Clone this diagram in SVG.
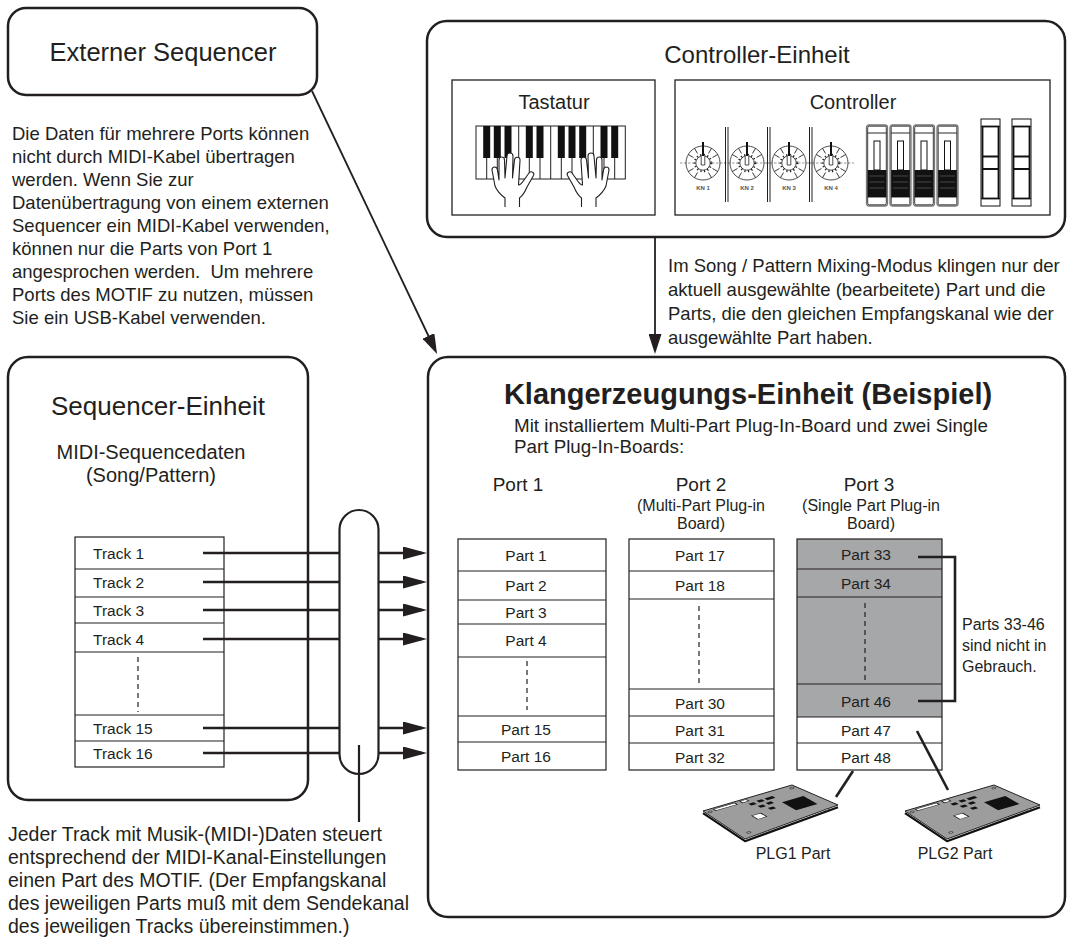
<svg xmlns="http://www.w3.org/2000/svg" width="1070" height="941" viewBox="0 0 1070 941">
<style>
  text { font-family: "Liberation Sans", Arial, Helvetica, sans-serif; fill: #231f20; }
  .mid { text-anchor: middle; }
  .box { fill: #fff; stroke: #231f20; stroke-width: 2.5; }
  .inner { fill: #fff; stroke: #231f20; stroke-width: 1.3; }
  .cell { fill: none; stroke: #231f20; stroke-width: 1.2; }
  .dash { stroke: #231f20; stroke-width: 1.2; stroke-dasharray: 5 4; }
  .wire { fill: none; stroke: #231f20; stroke-width: 2.6; }
  .thin { fill: none; stroke: #231f20; stroke-width: 1.8; }
  .body { font-size: 18.5px; }
  .lbl { font-size: 15.5px; }
  .kn { font-size: 6px; font-weight: bold; fill: #555; }
</style>
<defs>
  <marker id="head" viewBox="0 0 20 13" refX="15" refY="6.5" markerWidth="20" markerHeight="13" markerUnits="userSpaceOnUse" orient="auto">
    <path d="M0,0 L20,6.5 L0,13 Z" fill="#231f20"/>
  </marker>
  <marker id="headTrack" viewBox="0 0 24 13" refX="19" refY="6.5" markerWidth="24" markerHeight="13" markerUnits="userSpaceOnUse" orient="auto">
    <path d="M0,0 L24,6.5 L0,13 Z" fill="#231f20"/>
  </marker>

  <!-- rotary knob with scale ticks -->
  <g id="knob">
    <line x1="-23" y1="0" x2="23" y2="0" stroke="#8a8a8a" stroke-width="0.9" stroke-dasharray="2.5 1.5"/>
    <circle r="17" fill="none" stroke="#231f20" stroke-width="0.8"/>
    <g stroke="#231f20" stroke-width="0.8">
      <line x1="0" y1="-11" x2="0" y2="-17" transform="rotate(30)"/>
      <line x1="0" y1="-11" x2="0" y2="-17" transform="rotate(60)"/>
      <line x1="0" y1="-11" x2="0" y2="-17" transform="rotate(120)"/>
      <line x1="0" y1="-11" x2="0" y2="-17" transform="rotate(150)"/>
      <line x1="0" y1="-11" x2="0" y2="-17" transform="rotate(210)"/>
      <line x1="0" y1="-11" x2="0" y2="-17" transform="rotate(240)"/>
      <line x1="0" y1="-11" x2="0" y2="-17" transform="rotate(300)"/>
      <line x1="0" y1="-11" x2="0" y2="-17" transform="rotate(330)"/>
    </g>
    <circle r="7.2" fill="#fff" stroke="#231f20" stroke-width="0.8"/>
    <circle r="8.3" fill="none" stroke="#231f20" stroke-width="2" stroke-dasharray="1.2 2.4"/>
    <path d="M-1.8,-8 V2 H1.8 V-8" fill="#fff" stroke="#231f20" stroke-width="0.8"/>
    <line x1="0" y1="-21" x2="0" y2="-7" stroke="#111" stroke-width="2"/>
  </g>

  <!-- channel fader -->
  <g id="slider">
    <rect x="0" y="0" width="21" height="81" rx="2.5" fill="#fff" stroke="#777" stroke-width="1.3"/>
    <rect x="1.2" y="1.2" width="18.6" height="78.6" rx="1.5" fill="none" stroke="#111" stroke-width="0.8"/>
    <line x1="1.2" y1="8" x2="19.8" y2="8" stroke="#111" stroke-width="0.9"/>
    <rect x="7.5" y="16" width="6" height="29" fill="#fff" stroke="#111" stroke-width="1"/>
    <rect x="1.2" y="45" width="18.6" height="27" fill="#111"/>
    <g stroke="#555" stroke-width="0.8">
      <line x1="3" y1="51" x2="18" y2="51"/>
      <line x1="3" y1="57" x2="18" y2="57"/>
      <line x1="3" y1="63" x2="18" y2="63"/>
    </g>
    <line x1="1.2" y1="72" x2="19.8" y2="72" stroke="#111" stroke-width="0.9"/>
  </g>

  <!-- pitch / modulation wheel -->
  <g id="wheel">
    <rect x="0" y="0" width="19" height="87" fill="#fff" stroke="#111" stroke-width="1"/>
    <line x1="0" y1="7.5" x2="19" y2="7.5" stroke="#111" stroke-width="1"/>
    <line x1="0" y1="79.5" x2="19" y2="79.5" stroke="#111" stroke-width="1"/>
    <rect x="1.5" y="7.5" width="16" height="72" fill="none" stroke="#111" stroke-width="1.8"/>
    <line x1="1.5" y1="37.5" x2="17.5" y2="37.5" stroke="#111" stroke-width="2"/>
    <line x1="1.5" y1="50" x2="17.5" y2="50" stroke="#111" stroke-width="2"/>
  </g>

  <!-- outlined hand, thumb to the right -->
  <path id="hand" d="M13,55 L13,46 C9,43 5,39 3,34 L0,18 C0,14 5,14 5.5,18 L7,28 L7,8 C7,4 12.5,4 12.5,8 L13,26 L15,4 C15,0 21,0 21,4 L20.5,26 L22.5,8 C23,4 28.5,4.5 28,8.5 L26.5,33 C28,33 30,31 32,28 L37,21 C39,18.5 43,20.5 41.5,23.5 L35,35 C33,40 30,44 27.5,46 L27.5,55" fill="#fff" stroke="#231f20" stroke-width="1.1" stroke-linejoin="round"/>

  <!-- plug-in board seen in perspective -->
  <g id="board">
    <polyline points="0,2.2 42,30.2 135,-3.8" fill="none" stroke="#111" stroke-width="2.2" stroke-linejoin="round"/>
    <polygon points="0,0 89,-26 135,-6 42,28" fill="#9d9d9d" stroke="#222" stroke-width="1"/>
    <g transform="matrix(0.89,-0.26,0.44,0.25,0,0)">
      <rect x="10" y="3" width="24" height="6" fill="#fff" stroke="#111" stroke-width="1.2"/>
      <rect x="40" y="3" width="7" height="6" fill="#fff" stroke="#111" stroke-width="1.2"/>
      <g fill="#111">
        <rect x="43" y="16" width="6" height="7"/>
        <rect x="53" y="14" width="6" height="7"/>
        <rect x="47" y="29" width="6" height="7"/>
        <rect x="57" y="27" width="6" height="7"/>
        <rect x="52" y="42" width="6" height="7"/>
        <rect x="62" y="14" width="9" height="7"/>
        <rect x="70" y="38" width="24" height="32"/>
      </g>
      <rect x="30" y="50" width="10" height="14" fill="#fff" stroke="#111" stroke-width="1.2"/>
      <g fill="#ddd" stroke="#111" stroke-width="0.8">
        <circle cx="4" cy="8" r="2.2"/>
        <circle cx="96" cy="8" r="2.2"/>
        <circle cx="6" cy="92" r="2.2"/>
        <circle cx="94" cy="92" r="2.2"/>
      </g>
    </g>
  </g>
</defs>

<rect width="1070" height="941" fill="#fff"/>

<!-- External sequencer -->
<g id="external-sequencer">
  <rect class="box" x="8" y="8" width="309" height="87" rx="18"/>
  <text class="mid" x="163" y="61" font-size="25.5">Externer Sequencer</text>
</g>

<g id="note-midi-cable" class="body">
  <text x="12" y="139.5">Die Daten für mehrere Ports können</text>
  <text x="12" y="162.5">nicht durch MIDI-Kabel übertragen</text>
  <text x="12" y="185.5">werden. Wenn Sie zur</text>
  <text x="12" y="208.5">Datenübertragung von einem externen</text>
  <text x="12" y="231.5">Sequencer ein MIDI-Kabel verwenden,</text>
  <text x="12" y="254.5">können nur die Parts von Port 1</text>
  <text x="12" y="277.5" xml:space="preserve">angesprochen werden.  Um mehrere</text>
  <text x="12" y="300.5">Ports des MOTIF zu nutzen, müssen</text>
  <text x="12" y="323.5">Sie ein USB-Kabel verwenden.</text>
</g>

<!-- Controller unit -->
<g id="controller-unit">
  <rect class="box" x="427" y="21" width="638" height="216" rx="20"/>
  <text class="mid" x="757" y="63" font-size="24">Controller-Einheit</text>

  <g id="keyboard">
    <rect class="inner" x="452" y="80" width="203" height="135"/>
    <text class="mid" x="554" y="108.5" font-size="20">Tastatur</text>
    <rect x="476" y="126" width="149.3" height="53" fill="#fff" stroke="#231f20" stroke-width="1"/>
    <g stroke="#231f20" stroke-width="1">
      <line x1="486.7" y1="126" x2="486.7" y2="179"/>
      <line x1="497.3" y1="126" x2="497.3" y2="179"/>
      <line x1="508" y1="126" x2="508" y2="179"/>
      <line x1="518.7" y1="126" x2="518.7" y2="179"/>
      <line x1="529.3" y1="126" x2="529.3" y2="179"/>
      <line x1="540" y1="126" x2="540" y2="179"/>
      <line x1="550.7" y1="126" x2="550.7" y2="179"/>
      <line x1="561.3" y1="126" x2="561.3" y2="179"/>
      <line x1="572" y1="126" x2="572" y2="179"/>
      <line x1="582.7" y1="126" x2="582.7" y2="179"/>
      <line x1="593.3" y1="126" x2="593.3" y2="179"/>
      <line x1="604" y1="126" x2="604" y2="179"/>
      <line x1="614.7" y1="126" x2="614.7" y2="179"/>
    </g>
    <g fill="#111">
      <rect x="483.2" y="126" width="7" height="32"/>
      <rect x="493.8" y="126" width="7" height="32"/>
      <rect x="504.5" y="126" width="7" height="32"/>
      <rect x="525.8" y="126" width="7" height="32"/>
      <rect x="536.5" y="126" width="7" height="32"/>
      <rect x="557.8" y="126" width="7" height="32"/>
      <rect x="568.5" y="126" width="7" height="32"/>
      <rect x="579.2" y="126" width="7" height="32"/>
      <rect x="600.5" y="126" width="7" height="32"/>
      <rect x="611.2" y="126" width="7" height="32"/>
    </g>
    <use href="#hand" transform="translate(492,152)"/>
    <use href="#hand" transform="translate(609,152) scale(-1,1)"/>
  </g>

  <g id="controllers">
    <rect class="inner" x="675" y="80" width="375" height="135"/>
    <text class="mid" x="853" y="108.5" font-size="20">Controller</text>
    <use href="#knob" x="703" y="163"/>
    <use href="#knob" x="747" y="163"/>
    <use href="#knob" x="789" y="163"/>
    <use href="#knob" x="831" y="163"/>
    <g stroke="#231f20" stroke-width="1">
      <line x1="725.5" y1="127" x2="725.5" y2="202"/>
      <line x1="728" y1="127" x2="728" y2="202"/>
      <line x1="767.5" y1="127" x2="767.5" y2="202"/>
      <line x1="770" y1="127" x2="770" y2="202"/>
      <line x1="809.5" y1="127" x2="809.5" y2="202"/>
      <line x1="812" y1="127" x2="812" y2="202"/>
    </g>
    <text class="mid kn" x="703" y="190">KN 1</text>
    <text class="mid kn" x="747" y="190">KN 2</text>
    <text class="mid kn" x="789" y="190">KN 3</text>
    <text class="mid kn" x="831" y="190">KN 4</text>
    <use href="#slider" x="866.5" y="125"/>
    <use href="#slider" x="890" y="125"/>
    <use href="#slider" x="913.5" y="125"/>
    <use href="#slider" x="937" y="125"/>
    <use href="#wheel" x="981" y="119"/>
    <use href="#wheel" x="1012" y="119"/>
  </g>
</g>

<g id="note-mixing" class="body">
  <text x="668" y="272">Im Song / Pattern Mixing-Modus klingen nur der</text>
  <text x="668" y="296">aktuell ausgewählte (bearbeitete) Part und die</text>
  <text x="668" y="320">Parts, die den gleichen Empfangskanal wie der</text>
  <text x="668" y="344">ausgewählte Part haben.</text>
</g>

<!-- Sequencer unit -->
<g id="sequencer-unit">
  <rect class="box" x="8" y="357" width="300" height="443" rx="20"/>
  <text class="mid" x="158" y="415" font-size="26">Sequencer-Einheit</text>
  <text class="mid" x="151" y="459" font-size="20">MIDI-Sequencedaten</text>
  <text class="mid" x="151" y="482" font-size="20">(Song/Pattern)</text>
  <g id="tracks">
    <rect x="75" y="537" width="149" height="230" fill="#fff" stroke="#231f20" stroke-width="1.2"/>
    <g class="cell">
      <line x1="75" y1="569" x2="224" y2="569"/>
      <line x1="75" y1="597" x2="224" y2="597"/>
      <line x1="75" y1="623" x2="224" y2="623"/>
      <line x1="75" y1="652" x2="224" y2="652"/>
      <line x1="75" y1="715" x2="224" y2="715"/>
      <line x1="75" y1="741" x2="224" y2="741"/>
    </g>
    <line class="dash" x1="138" y1="657" x2="138" y2="712"/>
    <g class="lbl">
      <text x="93" y="558.5">Track 1</text>
      <text x="93" y="587.5">Track 2</text>
      <text x="93" y="615.5">Track 3</text>
      <text x="93" y="644.5">Track 4</text>
      <text x="93" y="733.5">Track 15</text>
      <text x="93" y="758.5">Track 16</text>
    </g>
  </g>
</g>

<!-- Tone generator unit -->
<g id="tone-generator-unit">
  <rect class="box" x="428" y="357" width="637" height="560" rx="20"/>
  <text class="mid" x="748" y="404" font-size="29" font-weight="bold">Klangerzeugungs-Einheit (Beispiel)</text>
  <text x="514" y="432" font-size="18.8">Mit installiertem Multi-Part Plug-In-Board und zwei Single</text>
  <text x="514" y="453" font-size="18.8">Part Plug-In-Boards:</text>

  <g id="port1">
    <text class="mid" x="518" y="491" font-size="19">Port 1</text>
    <rect x="458" y="539" width="148" height="231" fill="#fff" stroke="#231f20" stroke-width="1.2"/>
    <g class="cell">
      <line x1="458" y1="571" x2="606" y2="571"/>
      <line x1="458" y1="600" x2="606" y2="600"/>
      <line x1="458" y1="624" x2="606" y2="624"/>
      <line x1="458" y1="657" x2="606" y2="657"/>
      <line x1="458" y1="716" x2="606" y2="716"/>
      <line x1="458" y1="742" x2="606" y2="742"/>
    </g>
    <line class="dash" x1="527" y1="661" x2="527" y2="710"/>
    <g class="lbl mid">
      <text x="526" y="561">Part 1</text>
      <text x="526" y="591">Part 2</text>
      <text x="526" y="618">Part 3</text>
      <text x="526" y="646">Part 4</text>
      <text x="526" y="735">Part 15</text>
      <text x="526" y="762">Part 16</text>
    </g>
  </g>

  <g id="port2">
    <text class="mid" x="701" y="491" font-size="19">Port 2</text>
    <text class="mid" x="701" y="511" font-size="16">(Multi-Part Plug-in</text>
    <text class="mid" x="701" y="529" font-size="16">Board)</text>
    <rect x="629" y="539" width="145" height="231" fill="#fff" stroke="#231f20" stroke-width="1.2"/>
    <g class="cell">
      <line x1="629" y1="571" x2="774" y2="571"/>
      <line x1="629" y1="599" x2="774" y2="599"/>
      <line x1="629" y1="689" x2="774" y2="689"/>
      <line x1="629" y1="716" x2="774" y2="716"/>
      <line x1="629" y1="743" x2="774" y2="743"/>
    </g>
    <line class="dash" x1="699" y1="606" x2="699" y2="684"/>
    <g class="lbl mid">
      <text x="700" y="561">Part 17</text>
      <text x="700" y="591">Part 18</text>
      <text x="700" y="708.5">Part 30</text>
      <text x="700" y="735.5">Part 31</text>
      <text x="700" y="762.5">Part 32</text>
    </g>
  </g>

  <g id="port3">
    <text class="mid" x="869" y="491" font-size="19">Port 3</text>
    <text class="mid" x="871" y="511" font-size="16">(Single Part Plug-in</text>
    <text class="mid" x="871" y="529" font-size="16">Board)</text>
    <rect x="797" y="539" width="145" height="178" fill="#a6a7a9"/>
    <rect x="797" y="539" width="145" height="231" fill="none" stroke="#231f20" stroke-width="1.2"/>
    <g class="cell">
      <line x1="797" y1="569" x2="942" y2="569"/>
      <line x1="797" y1="597" x2="942" y2="597"/>
      <line x1="797" y1="684" x2="942" y2="684"/>
      <line x1="797" y1="717" x2="942" y2="717"/>
      <line x1="797" y1="743" x2="942" y2="743"/>
    </g>
    <line class="dash" x1="865" y1="603" x2="865" y2="680"/>
    <g class="lbl mid">
      <text x="866" y="560">Part 33</text>
      <text x="866" y="589">Part 34</text>
      <text x="866" y="706.5">Part 46</text>
      <text x="866" y="736">Part 47</text>
      <text x="866" y="762.5">Part 48</text>
    </g>
    <path class="wire" d="M918,557 H955 V701 H918"/>
    <g font-size="16">
      <text x="962" y="629.5">Parts 33-46</text>
      <text x="962" y="651">sind nicht in</text>
      <text x="962" y="672">Gebrauch.</text>
    </g>
  </g>

  <g id="plg1">
    <use href="#board" transform="translate(703,811)"/>
    <text class="mid" x="793" y="859" font-size="16">PLG1 Part</text>
  </g>
  <g id="plg2">
    <use href="#board" transform="translate(905,811)"/>
    <text class="mid" x="955" y="859" font-size="16">PLG2 Part</text>
  </g>
</g>

<!-- Connectors -->
<g id="connectors">
  <line class="thin" x1="312" y1="91" x2="434.9" y2="349.5" marker-end="url(#head)"/>
  <line class="thin" x1="655" y1="237" x2="655" y2="349" marker-end="url(#head)"/>
  <g class="wire">
    <line x1="203" y1="553" x2="422" y2="553" marker-end="url(#headTrack)"/>
    <line x1="203" y1="582" x2="422" y2="582" marker-end="url(#headTrack)"/>
    <line x1="203" y1="610" x2="422" y2="610" marker-end="url(#headTrack)"/>
    <line x1="203" y1="639" x2="422" y2="639" marker-end="url(#headTrack)"/>
    <line x1="203" y1="728" x2="422" y2="728" marker-end="url(#headTrack)"/>
    <line x1="203" y1="753" x2="422" y2="753" marker-end="url(#headTrack)"/>
  </g>
  <line class="wire" x1="853" y1="771" x2="836" y2="797"/>
  <line class="wire" x1="917" y1="731" x2="948" y2="790"/>
</g>

<!-- MIDI bundle -->
<g id="midi-bundle">
  <rect x="339.5" y="510" width="39" height="264" rx="19.5" fill="#fff" stroke="#231f20" stroke-width="2.2"/>
  <line x1="359" y1="745" x2="359" y2="822" stroke="#231f20" stroke-width="2.2"/>
</g>

<g id="note-tracks" font-size="19.5">
  <text x="8" y="840.5">Jeder Track mit Musik-(MIDI-)Daten steuert</text>
  <text x="8" y="863.5">entsprechend der MIDI-Kanal-Einstellungen</text>
  <text x="8" y="886.5">einen Part des MOTIF. (Der Empfangskanal</text>
  <text x="8" y="909.5">des jeweiligen Parts muß mit dem Sendekanal</text>
  <text x="8" y="932.5">des jeweiligen Tracks übereinstimmen.)</text>
</g>
</svg>
